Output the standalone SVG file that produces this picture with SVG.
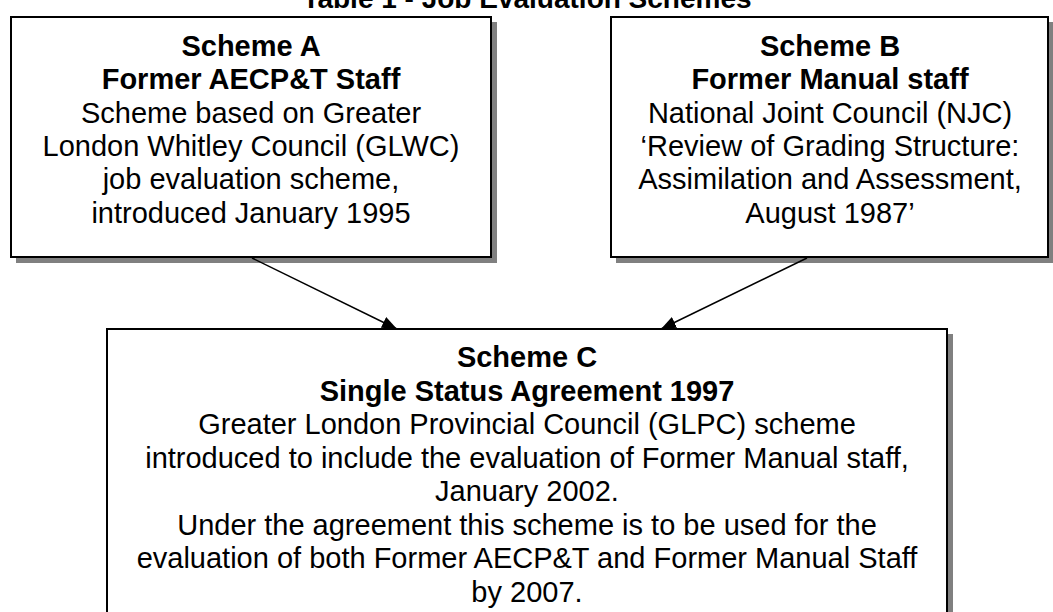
<svg xmlns="http://www.w3.org/2000/svg" width="1053" height="612" viewBox="0 0 1053 612">
<style>
.box{fill:#fff;stroke:#000;stroke-width:2}
.sh{fill:#808080}
.t{font-family:"Liberation Sans",Arial,sans-serif;font-size:29px;fill:#000;text-anchor:middle}
.b{font-weight:bold}
.title{font-family:"Liberation Sans",Arial,sans-serif;font-size:28px;font-weight:bold;text-anchor:middle}
.con{stroke:#000;stroke-width:1.5;fill:none}
</style>
<defs>
<marker id="ah" viewBox="0 0 15 12" refX="15" refY="6" markerWidth="15" markerHeight="12" markerUnits="userSpaceOnUse" orient="auto">
<path d="M0,0 L15,6 L0,12 Z" fill="#000"/>
</marker>
</defs>
<rect width="1053" height="612" fill="#fff"/>
<text class="title" x="527" y="8">Table 1 - Job Evaluation Schemes</text>
<g id="nodeA">
<rect class="sh" x="16" y="22" width="481" height="241"/>
<rect class="box" x="11" y="17" width="480" height="240"/>
<text class="t b" x="251" y="56">Scheme A</text>
<text class="t b" x="251" y="89">Former AECP&amp;T Staff</text>
<text class="t" x="251" y="122.5">Scheme based on Greater</text>
<text class="t" x="251" y="156">London Whitley Council (GLWC)</text>
<text class="t" x="251" y="189">job evaluation scheme,</text>
<text class="t" x="251" y="222.5">introduced January 1995</text>
</g>
<g id="nodeB">
<rect class="sh" x="616" y="22" width="437" height="241"/>
<rect class="box" x="611" y="17" width="437" height="240"/>
<text class="t b" x="830" y="56">Scheme B</text>
<text class="t b" x="830" y="89">Former Manual staff</text>
<text class="t" x="830" y="122.5">National Joint Council (NJC)</text>
<text class="t" x="830" y="156">‘Review of Grading Structure:</text>
<text class="t" x="830" y="189">Assimilation and Assessment,</text>
<text class="t" x="830" y="222.5">August 1987’</text>
</g>
<g id="nodeC">
<rect class="sh" x="112" y="334" width="841" height="290"/>
<rect class="box" x="107" y="329" width="840" height="290"/>
<text class="t b" x="527" y="367">Scheme C</text>
<text class="t b" x="527" y="400.5">Single Status Agreement 1997</text>
<text class="t" x="527" y="434">Greater London Provincial Council (GLPC) scheme</text>
<text class="t" x="527" y="467.5">introduced to include the evaluation of Former Manual staff,</text>
<text class="t" x="527" y="501">January 2002.</text>
<text class="t" x="527" y="534.5">Under the agreement this scheme is to be used for the</text>
<text class="t" x="527" y="568">evaluation of both Former AECP&amp;T and Former Manual Staff</text>
<text class="t" x="527" y="601.5">by 2007.</text>
</g>
<g id="connectors">
<line class="con" x1="252" y1="258" x2="397" y2="329" marker-end="url(#ah)"/>
<line class="con" x1="807" y1="258" x2="661" y2="329" marker-end="url(#ah)"/>
</g>
</svg>
